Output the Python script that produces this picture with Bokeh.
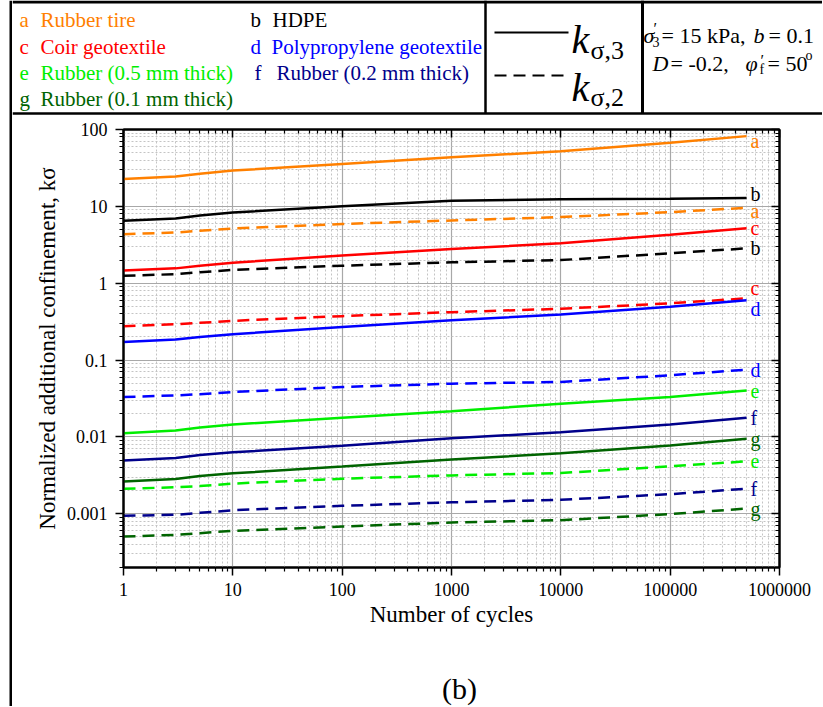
from bokeh.plotting import figure
from bokeh.models import Range1d, FixedTicker, CustomJSTickFormatter, LogAxis, ColumnDataSource
from bokeh.layouts import row, column
from bokeh.embed import file_html
from bokeh.resources import INLINE
from bokeh.core.properties import value

SERIF = "Liberation Serif"

# ---------------- data ----------------
cycles = [1, 3, 5, 10, 100, 1000, 10000, 100000, 500000]

keys = ["a", "b", "c", "d", "e", "f", "g"]
names = ["Rubber tire", "HDPE", "Coir geotextile", "Polypropylene geotextile",
         "Rubber (0.5 mm thick)", "Rubber (0.2 mm thick)", "Rubber (0.1 mm thick)"]

# k_sigma,3 (solid)
k3_a = [22.7, 24.5, 26.5, 29.2, 35.6, 43.5, 52, 67, 82]
k3_b = [6.5, 6.95, 7.6, 8.3, 10.0, 11.8, 12.4, 12.6, 12.8]
k3_c = [1.46, 1.56, 1.69, 1.85, 2.29, 2.79, 3.31, 4.26, 5.2]
k3_d = [0.172, 0.185, 0.2, 0.217, 0.27, 0.33, 0.392, 0.493, 0.60]
k3_e = [0.0112, 0.0121, 0.0133, 0.0145, 0.0177, 0.0216, 0.027, 0.033, 0.0403]
k3_f = [0.00492, 0.00533, 0.0058, 0.0063, 0.0077, 0.0096, 0.0115, 0.0145, 0.0177]
k3_g = [0.00264, 0.00284, 0.0031, 0.00336, 0.00411, 0.00507, 0.00612, 0.00772, 0.00944]

# k_sigma,2 (dashed)
k2_a = [4.35, 4.57, 4.8, 5.15, 5.9, 6.55, 7.25, 8.4, 9.6]
k2_b = [1.25, 1.31, 1.39, 1.49, 1.69, 1.87, 2.0, 2.45, 2.84]
k2_c = [0.276, 0.293, 0.305, 0.324, 0.373, 0.42, 0.465, 0.547, 0.635]
k2_d = [0.033, 0.0347, 0.036, 0.0384, 0.0446, 0.0493, 0.0519, 0.0634, 0.075]
k2_e = [0.00212, 0.00221, 0.0023, 0.00247, 0.00286, 0.00316, 0.00339, 0.00414, 0.00481]
k2_f = [0.00094, 0.00097, 0.00103, 0.00111, 0.00127, 0.00141, 0.00152, 0.0018, 0.00212]
k2_g = [0.000506, 0.000532, 0.00056, 0.0006, 0.000683, 0.00077, 0.000826, 0.00099, 0.00117]

x_tick_values = [1, 10, 100, 1000, 10000, 100000, 1000000]
y_tick_values = [0.001, 0.01, 0.1, 1, 10, 100]
x_minor_values = [m * 10 ** d for d in range(0, 6) for m in range(2, 10)]
y_minor_values = [m * 10.0 ** d for d in range(-4, 2) for m in range(2, 10)]

# ---------------- styles ----------------
colors = ["#ff8000", "#000000", "#ff0000", "#0000ff", "#00ee00", "#00008b", "#006400"]
k3_all = [k3_a, k3_b, k3_c, k3_d, k3_e, k3_f, k3_g]
k2_all = [k2_a, k2_b, k2_c, k2_d, k2_e, k2_f, k2_g]
# vertical pixel nudges of the end labels
k3_label_dy = [5, -4, 0, 9, 1, 0, 0]
k2_label_dy = [3, 0, -10, 0, 0, 0, 0]

COMMON = dict(toolbar_location=None, output_backend="svg", frame_align=False)

# ---------------- left black bar ----------------
L = figure(width=12, height=706, x_range=Range1d(0, 12), y_range=Range1d(706, 0),
           min_border=0, x_axis_location=None, y_axis_location=None,
           outline_line_color=None, background_fill_color="white",
           border_fill_color="white", **COMMON)
L.grid.visible = False
L.line([10.5, 10.5], [0, 706], line_color="black", line_width=3)

# ---------------- top legend strip (page coordinates) ----------------
T = figure(width=810, height=116, x_range=Range1d(12, 822), y_range=Range1d(116, 0),
           min_border=0, x_axis_location=None, y_axis_location=None,
           outline_line_color=None, background_fill_color="white",
           border_fill_color="white", **COMMON)
T.grid.visible = False


def put(fig, x, y, s, color="black", size="22px", style="normal", baseline="alphabetic",
        align="left"):
    fig.text(x=[x], y=[y], text=[s], text_color=color, text_font=value(SERIF),
             text_font_size=value(size), text_font_style=value(style),
             text_baseline=value(baseline), text_align=value(align))


# borders
T.line([12, 822], [1.5, 1.5], line_color="black", line_width=3)
T.line([12, 822], [113, 113], line_color="black", line_width=2.5)
T.line([485, 485], [0, 113], line_color="black", line_width=2.5)
T.line([642, 642], [0, 113], line_color="black", line_width=3)

# legend entries
leg_pos = [(19, 40, 19), (250, 272, 19), (19, 40, 46), (250, 271, 46),
           (19, 40, 72), (254, 276, 72), (19, 40, 98)]
for k, nm, c, (xk, xn, yy) in zip(keys, names, colors, leg_pos):
    put(T, xk, yy, k, color=c, size="21px", baseline="middle")
    put(T, xn, yy, nm, color=c, size="21px", baseline="middle")

# line-style key
T.line([494, 568], [32, 32], line_color="black", line_width=2)
T.line([494, 568], [75, 75], line_color="black", line_width=2, line_dash="12 7")
put(T, 571, 39, "k", size="40px", style="italic")
put(T, 590, 50, "σ,3", size="26px")
put(T, 571, 87, "k", size="40px", style="italic")
put(T, 590, 97, "σ,2", size="26px")

# conditions
put(T, 643, 35, "σ", style="italic")
put(T, 653, 28, "′", size="16px")
put(T, 652, 41, "3", size="14px")
put(T, 661, 35, "= 15 kPa,")
put(T, 753, 35, "b", style="italic")
put(T, 768, 35, "= 0.1")
put(T, 652, 63, "D", style="italic")
put(T, 670, 63, "= -0.2,")
put(T, 745, 63, "φ", style="italic")
put(T, 760, 60, "′", size="16px")
put(T, 759, 69, "f", size="14px")
put(T, 767, 63, "= 50")
put(T, 805, 55, "o", size="14px")

# ---------------- main chart ----------------
p = figure(width=810, height=534, x_axis_type="log", y_axis_type="log",
           x_range=Range1d(1, 1e6), y_range=Range1d(2e-4, 100),
           min_border_left=111, min_border_right=43, min_border_top=13, min_border_bottom=83,
           outline_line_color="black", outline_line_width=2,
           background_fill_color="white", border_fill_color="white", **COMMON)

xt = FixedTicker(ticks=x_tick_values, minor_ticks=x_minor_values)
yt = FixedTicker(ticks=y_tick_values, minor_ticks=y_minor_values)
fmt = CustomJSTickFormatter(code="return String(tick);")
blank = CustomJSTickFormatter(code="return '';")

xa = p.xaxis[0]
ya = p.yaxis[0]
xa.ticker = xt
ya.ticker = yt
xa.axis_label = "Number of cycles"
ya.axis_label = "Normalized additional confinement, kσ"
for ax in (xa, ya):
    ax.formatter = fmt
    ax.axis_line_width = 2
    ax.axis_line_color = "black"
    ax.major_tick_out = 8
    ax.major_tick_in = 0
    ax.minor_tick_out = 4
    ax.minor_tick_in = 0
    ax.major_tick_line_width = 1.5
    ax.minor_tick_line_width = 1.2
    ax.major_label_text_font = SERIF
    ax.major_label_text_font_size = "18px"
    ax.major_label_text_color = "black"
    ax.axis_label_text_font = SERIF
    ax.axis_label_text_font_size = "23px"
    ax.axis_label_text_font_style = "normal"
    ax.axis_label_text_color = "black"
xa.major_label_standoff = 7
xa.axis_label_standoff = 3
ya.major_label_standoff = 8
ya.axis_label_standoff = 4

for loc, tk in (("above", xt), ("right", yt)):
    ax = LogAxis(ticker=tk, formatter=blank, major_tick_in=8, major_tick_out=0,
                 minor_tick_in=4, minor_tick_out=0, axis_line_width=2,
                 major_tick_line_width=1.5, minor_tick_line_width=1.2,
                 major_label_text_font_size="0px", major_label_standoff=0)
    p.add_layout(ax, loc)

for g in (p.xgrid[0], p.ygrid[0]):
    g.grid_line_color = "#a8a8a8"
    g.grid_line_width = 1.2
    g.minor_grid_line_color = "#c4c4c4"
    g.minor_grid_line_width = 1
    g.minor_grid_line_dash = "2 2"

for c, s3, s2 in zip(colors, k3_all, k2_all):
    p.line(x=cycles, y=s3, line_color=c, line_width=2.5)
    p.line(x=cycles, y=s2, line_color=c, line_width=2.5, line_dash="12 7")

lab = ColumnDataSource(dict(
    x=[cycles[-1]] * 14,
    y=[s[-1] for s in k3_all] + [s[-1] for s in k2_all],
    t=keys + keys,
    c=colors + colors,
    dy=k3_label_dy + k2_label_dy,
))
p.text(x="x", y="y", text="t", text_color="c", y_offset="dy", x_offset=4, source=lab,
       text_font=value(SERIF), text_font_size=value("20px"),
       text_baseline=value("middle"), text_align=value("left"))

# ---------------- caption strip ----------------
B = figure(width=810, height=56, x_range=Range1d(12, 822), y_range=Range1d(706, 650),
           min_border=0, x_axis_location=None, y_axis_location=None,
           outline_line_color=None, background_fill_color="white",
           border_fill_color="white", **COMMON)
B.grid.visible = False
put(B, 459, 688, "(b)", size="30px", baseline="middle", align="center")

layout = row(L, column(T, p, B, spacing=0), spacing=0)

with open("out.html", "w") as f:
    f.write(file_html(layout, INLINE))
